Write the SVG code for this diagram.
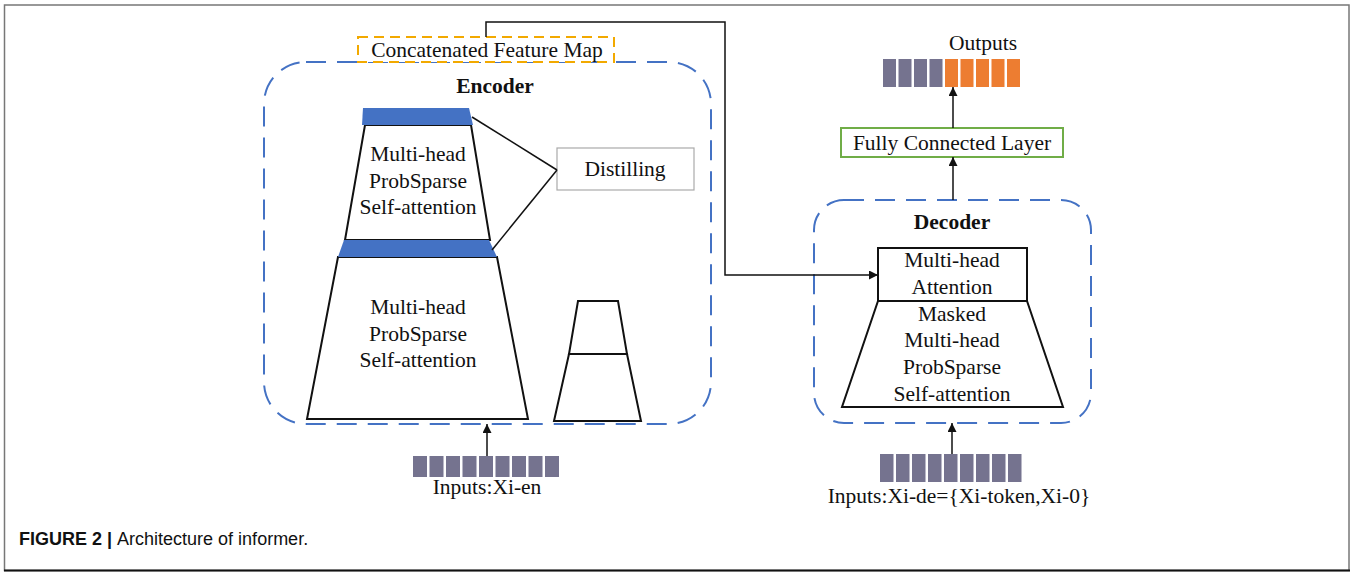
<svg xmlns="http://www.w3.org/2000/svg" width="1352" height="573" viewBox="0 0 1352 573">
<style>
.t{font-family:"Liberation Serif","Times New Roman",serif;font-size:21.5px;fill:#111;text-anchor:middle}
.b{font-weight:bold}
.dash{fill:none;stroke:#4472C4;stroke-width:2;stroke-dasharray:20 11}
.shape{fill:#fff;stroke:#111;stroke-width:2}
.bar{fill:#4472C4}
.in{fill:#75738f}
.out{fill:#ED7D31}
.ln{fill:none;stroke:#111;stroke-width:1.5}
</style>
<defs>
<marker id="ah" viewBox="0 0 10 10" refX="10" refY="5" markerWidth="9" markerHeight="9" markerUnits="userSpaceOnUse" orient="auto">
<path d="M0,0 L10,5 L0,10 z" fill="#111"/>
</marker>
</defs>
<rect x="0" y="0" width="1352" height="573" fill="#fff"/>
<rect x="4.5" y="5" width="1344.5" height="565.5" fill="none" stroke="#777" stroke-width="1.5"/>
<line x1="4" y1="570.5" x2="1350" y2="570.5" stroke="#111" stroke-width="2"/>

<g id="encoder">
<rect class="dash" x="264" y="62" width="447" height="362" rx="42" ry="42"/>
<text class="t b" x="495" y="93">Encoder</text>
</g>

<g id="concat">
<rect x="358" y="37" width="256" height="25" fill="#fff" stroke="#F2A900" stroke-width="2" stroke-dasharray="10 6"/>
<text class="t" x="487" y="57">Concatenated Feature Map</text>
</g>

<g id="attn1">
<polygon class="shape" points="365,125 471,125 490,240 345,240"/>
<polygon class="bar" points="363,108 469,108 473,125 362,125"/>
<text class="t" x="418" y="161">Multi-head</text>
<text class="t" x="418" y="188">ProbSparse</text>
<text class="t" x="418" y="214">Self-attention</text>
</g>

<g id="attn2">
<polygon class="shape" points="338,257 497,257 528,419 307,419"/>
<polygon class="bar" points="344,240 489,240 497,257 338,257"/>
<text class="t" x="418" y="314">Multi-head</text>
<text class="t" x="418" y="341">ProbSparse</text>
<text class="t" x="418" y="367">Self-attention</text>
</g>

<g id="mini">
<polygon class="shape" points="578,301 618,301 627,354 569,354"/>
<polygon class="shape" points="569,354 627,354 641,421 554,421"/>
</g>

<g id="distilling">
<rect x="557" y="148" width="137" height="42" fill="#fff" stroke="#aaa" stroke-width="1.2"/>
<text class="t" x="625" y="176">Distilling</text>
</g>

<g id="enc-inputs">
<rect class="in" x="413" y="456" width="14" height="21"/>
<rect class="in" x="429.5" y="456" width="14" height="21"/>
<rect class="in" x="446" y="456" width="14" height="21"/>
<rect class="in" x="462.5" y="456" width="14" height="21"/>
<rect class="in" x="479" y="456" width="14" height="21"/>
<rect class="in" x="495.5" y="456" width="14" height="21"/>
<rect class="in" x="512" y="456" width="14" height="21"/>
<rect class="in" x="528.5" y="456" width="14" height="21"/>
<rect class="in" x="545" y="456" width="14" height="21"/>
<text class="t" x="487" y="494">Inputs:Xi-en</text>
</g>

<g id="decoder">
<rect class="dash" x="814" y="200" width="277" height="223" rx="30" ry="30"/>
<text class="t b" x="952" y="229">Decoder</text>
</g>

<g id="mha">
<rect class="shape" x="878" y="248" width="149" height="53"/>
<text class="t" x="952" y="267">Multi-head</text>
<text class="t" x="952" y="294">Attention</text>
</g>

<g id="masked">
<polygon class="shape" points="878,301 1027,301 1063,407 842,407"/>
<text class="t" x="952" y="321">Masked</text>
<text class="t" x="952" y="347">Multi-head</text>
<text class="t" x="952" y="374">ProbSparse</text>
<text class="t" x="952" y="401">Self-attention</text>
</g>

<g id="dec-inputs">
<rect class="in" x="880" y="454" width="13.5" height="28"/>
<rect class="in" x="896" y="454" width="13.5" height="28"/>
<rect class="in" x="912" y="454" width="13.5" height="28"/>
<rect class="in" x="928" y="454" width="13.5" height="28"/>
<rect class="in" x="944" y="454" width="13.5" height="28"/>
<rect class="in" x="960" y="454" width="13.5" height="28"/>
<rect class="in" x="976" y="454" width="13.5" height="28"/>
<rect class="in" x="992" y="454" width="13.5" height="28"/>
<rect class="in" x="1008" y="454" width="13.5" height="28"/>
<text class="t" x="959" y="503">Inputs:Xi-de={Xi-token,Xi-0}</text>
</g>

<g id="fc">
<rect x="841" y="128" width="222" height="29" fill="#fff" stroke="#70AD47" stroke-width="2"/>
<text class="t" x="952" y="150">Fully Connected Layer</text>
</g>

<g id="outputs">
<rect class="in" x="883" y="59" width="13" height="28"/>
<rect class="in" x="898.5" y="59" width="13" height="28"/>
<rect class="in" x="914" y="59" width="13" height="28"/>
<rect class="in" x="929.5" y="59" width="13" height="28"/>
<rect class="out" x="945" y="59" width="13" height="28"/>
<rect class="out" x="960.5" y="59" width="13" height="28"/>
<rect class="out" x="976" y="59" width="13" height="28"/>
<rect class="out" x="991.5" y="59" width="13" height="28"/>
<rect class="out" x="1007" y="59" width="13" height="28"/>
<text class="t" x="983" y="50">Outputs</text>
</g>

<g id="connectors">
<polyline class="ln" points="486,37 486,22 725,22 725,275 878,275" marker-end="url(#ah)"/>
<line class="ln" x1="472" y1="117" x2="557" y2="170"/>
<line class="ln" x1="492" y1="250" x2="557" y2="170"/>
<line class="ln" x1="487" y1="456" x2="487" y2="424" marker-end="url(#ah)"/>
<line class="ln" x1="952" y1="454" x2="952" y2="423" marker-end="url(#ah)"/>
<line class="ln" x1="953" y1="200" x2="953" y2="157" marker-end="url(#ah)"/>
<line class="ln" x1="953" y1="128" x2="953" y2="87" marker-end="url(#ah)"/>
</g>

<text x="19" y="545" font-family="Liberation Sans, Arial, sans-serif" font-size="18" fill="#111"><tspan font-weight="bold">FIGURE 2 | </tspan>Architecture of informer.</text>
</svg>
